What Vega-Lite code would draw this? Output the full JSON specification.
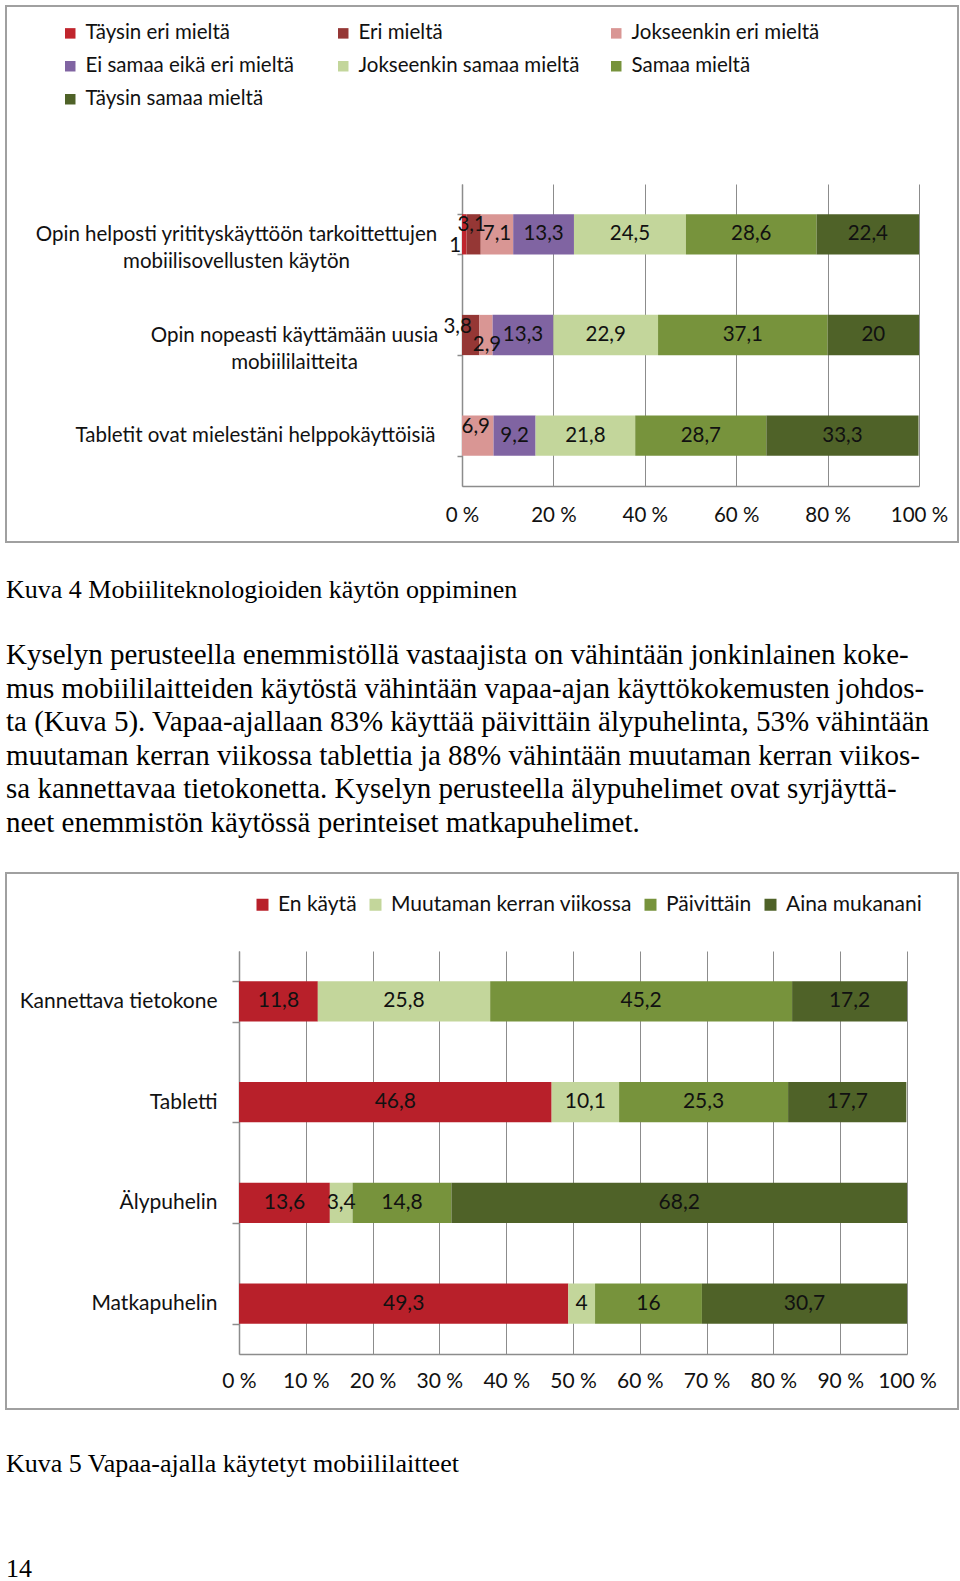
{
  "$schema": "https://vega.github.io/schema/vega-lite/v6.json",
  "background": "white",
  "padding": {"left": 5, "top": 5, "right": 0, "bottom": 0},
  "autosize": {"type": "pad"},
  "spacing": 331,
  "bounds": "flush",
  "resolve": {"legend": {"color": "independent", "fill": "independent"}},
  "datasets": {
    "c1": [
      {"q": "Opin helposti yritityskäyttöön tarkoittettujen mobiilisovellusten käytön", "r": "Täysin eri mieltä", "v": 1},
      {"q": "Opin helposti yritityskäyttöön tarkoittettujen mobiilisovellusten käytön", "r": "Eri mieltä", "v": 3.1},
      {"q": "Opin helposti yritityskäyttöön tarkoittettujen mobiilisovellusten käytön", "r": "Jokseenkin eri mieltä", "v": 7.1},
      {"q": "Opin helposti yritityskäyttöön tarkoittettujen mobiilisovellusten käytön", "r": "Ei samaa eikä eri mieltä", "v": 13.3},
      {"q": "Opin helposti yritityskäyttöön tarkoittettujen mobiilisovellusten käytön", "r": "Jokseenkin samaa mieltä", "v": 24.5},
      {"q": "Opin helposti yritityskäyttöön tarkoittettujen mobiilisovellusten käytön", "r": "Samaa mieltä", "v": 28.6},
      {"q": "Opin helposti yritityskäyttöön tarkoittettujen mobiilisovellusten käytön", "r": "Täysin samaa mieltä", "v": 22.4},
      {"q": "Opin nopeasti käyttämään uusia mobiililaitteita", "r": "Eri mieltä", "v": 3.8},
      {"q": "Opin nopeasti käyttämään uusia mobiililaitteita", "r": "Jokseenkin eri mieltä", "v": 2.9},
      {"q": "Opin nopeasti käyttämään uusia mobiililaitteita", "r": "Ei samaa eikä eri mieltä", "v": 13.3},
      {"q": "Opin nopeasti käyttämään uusia mobiililaitteita", "r": "Jokseenkin samaa mieltä", "v": 22.9},
      {"q": "Opin nopeasti käyttämään uusia mobiililaitteita", "r": "Samaa mieltä", "v": 37.1},
      {"q": "Opin nopeasti käyttämään uusia mobiililaitteita", "r": "Täysin samaa mieltä", "v": 20},
      {"q": "Tabletit ovat mielestäni helppokäyttöisiä", "r": "Jokseenkin eri mieltä", "v": 6.9},
      {"q": "Tabletit ovat mielestäni helppokäyttöisiä", "r": "Ei samaa eikä eri mieltä", "v": 9.2},
      {"q": "Tabletit ovat mielestäni helppokäyttöisiä", "r": "Jokseenkin samaa mieltä", "v": 21.8},
      {"q": "Tabletit ovat mielestäni helppokäyttöisiä", "r": "Samaa mieltä", "v": 28.7},
      {"q": "Tabletit ovat mielestäni helppokäyttöisiä", "r": "Täysin samaa mieltä", "v": 33.3}
    ],
    "c2": [
      {"d": "Kannettava tietokone", "r": "En käytä", "v": 11.8},
      {"d": "Kannettava tietokone", "r": "Muutaman kerran viikossa", "v": 25.8},
      {"d": "Kannettava tietokone", "r": "Päivittäin", "v": 45.2},
      {"d": "Kannettava tietokone", "r": "Aina mukanani", "v": 17.2},
      {"d": "Tabletti", "r": "En käytä", "v": 46.8},
      {"d": "Tabletti", "r": "Muutaman kerran viikossa", "v": 10.1},
      {"d": "Tabletti", "r": "Päivittäin", "v": 25.3},
      {"d": "Tabletti", "r": "Aina mukanani", "v": 17.7},
      {"d": "Älypuhelin", "r": "En käytä", "v": 13.6},
      {"d": "Älypuhelin", "r": "Muutaman kerran viikossa", "v": 3.4},
      {"d": "Älypuhelin", "r": "Päivittäin", "v": 14.8},
      {"d": "Älypuhelin", "r": "Aina mukanani", "v": 68.2},
      {"d": "Matkapuhelin", "r": "En käytä", "v": 49.3},
      {"d": "Matkapuhelin", "r": "Muutaman kerran viikossa", "v": 4},
      {"d": "Matkapuhelin", "r": "Päivittäin", "v": 16},
      {"d": "Matkapuhelin", "r": "Aina mukanani", "v": 30.7}
    ]
  },
  "vconcat": [
    {
      "width": 952,
      "height": 536,
      "view": {"stroke": "#a0a0a0", "strokeWidth": 2},
      "title": {
        "text": "Kuva 4 Mobiiliteknologioiden käytön oppiminen",
        "subtitle": [
          "Kyselyn perusteella enemmistöllä vastaajista on vähintään jonkinlainen koke-",
          "mus mobiililaitteiden käytöstä vähintään vapaa-ajan käyttökokemusten johdos-",
          "ta (Kuva 5). Vapaa-ajallaan 83% käyttää päivittäin älypuhelinta, 53% vähintään",
          "muutaman kerran viikossa tablettia ja 88% vähintään muutaman kerran viikos-",
          "sa kannettavaa tietokonetta. Kyselyn perusteella älypuhelimet ovat syrjäyttä-",
          "neet enemmistön käytössä perinteiset matkapuhelimet."
        ],
        "orient": "bottom",
        "anchor": "start",
        "frame": "group",
        "offset": 35,
        "font": "Liberation Serif",
        "fontSize": 26,
        "fontWeight": "normal",
        "color": "#000000",
        "subtitleFont": "Liberation Serif",
        "subtitleFontSize": 29,
        "subtitleColor": "#000000",
        "subtitleLineHeight": 33.5,
        "subtitlePadding": 38
      },
      "data": {"name": "c1"},
      "transform": [
        {"calculate": "indexof(['Täysin eri mieltä','Eri mieltä','Jokseenkin eri mieltä','Ei samaa eikä eri mieltä','Jokseenkin samaa mieltä','Samaa mieltä','Täysin samaa mieltä'], datum.r)", "as": "k"},
        {"calculate": "indexof(['Opin helposti yritityskäyttöön tarkoittettujen mobiilisovellusten käytön','Opin nopeasti käyttämään uusia mobiililaitteita','Tabletit ovat mielestäni helppokäyttöisiä'], datum.q)", "as": "qi"},
        {"window": [{"op": "sum", "field": "v", "as": "cum"}], "groupby": ["q"], "sort": [{"field": "k", "order": "ascending"}], "frame": [null, 0]},
        {"calculate": "datum.cum - datum.v", "as": "x0"},
        {"calculate": "datum.cum - datum.v / 2", "as": "mid"},
        {"calculate": "replace(toString(datum.v), '.', ',')", "as": "lbl"}
      ],
      "encoding": {
        "y": {
          "field": "q",
          "type": "nominal",
          "scale": {
            "domain": ["Opin helposti yritityskäyttöön tarkoittettujen mobiilisovellusten käytön", "Opin nopeasti käyttämään uusia mobiililaitteita", "Tabletit ovat mielestäni helppokäyttöisiä"],
            "range": [178, 480],
            "paddingInner": 0.6,
            "paddingOuter": 0.3
          },
          "axis": {
            "title": null,
            "orient": "left",
            "offset": -456,
            "domainColor": "#8c8c8c",
            "domainWidth": 1.5,
            "tickBand": "extent",
            "tickSize": 5,
            "tickColor": "#8c8c8c",
            "tickWidth": 1.5,
            "labelFont": "Lato",
            "labelFontSize": {"condition": {"test": "!isValid(datum.value)", "value": 0}, "value": 20.5},
            "labelColor": "#111111",
            "labelAlign": "center",
            "labelBaseline": "middle",
            "labelLineHeight": 27,
            "labelLimit": 0,
            "labelPadding": {
              "condition": [
                {"test": "datum.value == 'Opin nopeasti käyttämään uusia mobiililaitteita'", "value": 163},
                {"test": "datum.value == 'Tabletit ovat mielestäni helppokäyttöisiä'", "value": 202}
              ],
              "value": 221
            },
            "labelExpr": "isValid(datum.value) ? split(replace(datum.value, ' mobiili', '|mobiili'), '|') : ''"
          }
        }
      },
      "layer": [
        {
          "mark": {"type": "bar"},
          "encoding": {
            "x": {
              "field": "x0",
              "type": "quantitative",
              "scale": {"domain": [0, 100], "range": [456, 913], "nice": false, "zero": false},
              "axis": {
                "title": null,
                "orient": "bottom",
                "offset": -56,
                "values": [0, 20, 40, 60, 80, 100],
                "labelExpr": "datum.value + ' %'",
                "grid": false,
                "domainColor": "#8c8c8c",
                "domainWidth": 1.5,
                "tickSize": -302,
                "tickColor": "#8c8c8c",
                "tickWidth": 1,
                "labelFont": "Lato",
                "labelFontSize": 20.5,
                "labelColor": "#111111",
                "labelPadding": 321,
                "labelFlush": false,
                "labelOverlap": false
              }
            },
            "x2": {"field": "cum"},
            "color": {
              "field": "r",
              "type": "nominal",
              "scale": {
                "domain": ["Täysin eri mieltä", "Eri mieltä", "Jokseenkin eri mieltä", "Ei samaa eikä eri mieltä", "Jokseenkin samaa mieltä", "Samaa mieltä", "Täysin samaa mieltä"],
                "range": ["#c0252d", "#953735", "#d99694", "#8064a2", "#c3d69b", "#77933c", "#4f6228"]
              },
              "legend": {
                "title": null,
                "orient": "none",
                "direction": "horizontal",
                "legendX": 54,
                "legendY": 17,
                "columns": 3,
                "gridAlign": "all",
                "columnPadding": 26,
                "rowPadding": 12,
                "padding": 0,
                "symbolType": "square",
                "symbolSize": 110,
                "symbolStrokeWidth": 0,
                "labelFont": "Lato",
                "labelFontSize": 20.5,
                "labelColor": "#111111",
                "labelOffset": 5,
                "labelLimit": 0
              }
            }
          }
        },
        {
          "transform": [{"filter": "!(datum.qi == 0 && datum.k <= 1) && !(datum.qi == 1 && (datum.k == 1 || datum.k == 2)) && !(datum.qi == 2 && datum.k == 2)"}],
          "mark": {"type": "text", "font": "Lato", "fontSize": 20.5, "color": "#111111", "align": "center", "baseline": "middle"},
          "encoding": {"x": {"field": "mid", "type": "quantitative"}, "text": {"field": "lbl"}}
        },
        {
          "transform": [{"filter": "(datum.qi == 0 && datum.k == 1) || (datum.qi == 2 && datum.k == 2)"}],
          "mark": {"type": "text", "font": "Lato", "fontSize": 20.5, "color": "#111111", "align": "center", "baseline": "middle", "dx": -2, "dy": -9},
          "encoding": {"x": {"field": "mid", "type": "quantitative"}, "text": {"field": "lbl"}}
        },
        {
          "transform": [{"filter": "datum.qi == 1 && datum.k == 1"}],
          "mark": {"type": "text", "font": "Lato", "fontSize": 20.5, "color": "#111111", "align": "center", "baseline": "middle", "dx": -13, "dy": -8},
          "encoding": {"x": {"field": "mid", "type": "quantitative"}, "text": {"field": "lbl"}}
        },
        {
          "transform": [{"filter": "datum.qi == 0 && datum.k == 0"}],
          "mark": {"type": "text", "font": "Lato", "fontSize": 20.5, "color": "#111111", "align": "center", "baseline": "middle", "dx": -9, "dy": 12},
          "encoding": {"x": {"field": "mid", "type": "quantitative"}, "text": {"field": "lbl"}}
        },
        {
          "transform": [{"filter": "datum.qi == 1 && datum.k == 2"}],
          "mark": {"type": "text", "font": "Lato", "fontSize": 20.5, "color": "#111111", "align": "center", "baseline": "middle", "dx": 1, "dy": 10},
          "encoding": {"x": {"field": "mid", "type": "quantitative"}, "text": {"field": "lbl"}}
        }
      ]
    },
    {
      "width": 952,
      "height": 536,
      "view": {"stroke": "#a0a0a0", "strokeWidth": 2},
      "title": {
        "text": "Kuva 5 Vapaa-ajalla käytetyt mobiililaitteet",
        "subtitle": "14",
        "orient": "bottom",
        "anchor": "start",
        "frame": "group",
        "offset": 42,
        "font": "Liberation Serif",
        "fontSize": 26,
        "fontWeight": "normal",
        "color": "#000000",
        "subtitleFont": "Liberation Serif",
        "subtitleFontSize": 26,
        "subtitleColor": "#000000",
        "subtitlePadding": 79
      },
      "data": {"name": "c2"},
      "transform": [
        {"calculate": "indexof(['En käytä','Muutaman kerran viikossa','Päivittäin','Aina mukanani'], datum.r)", "as": "k"},
        {"window": [{"op": "sum", "field": "v", "as": "cum"}], "groupby": ["d"], "sort": [{"field": "k", "order": "ascending"}], "frame": [null, 0]},
        {"calculate": "datum.cum - datum.v", "as": "x0"},
        {"calculate": "datum.cum - datum.v / 2", "as": "mid"},
        {"calculate": "replace(toString(datum.v), '.', ',')", "as": "lbl"}
      ],
      "encoding": {
        "y": {
          "field": "d",
          "type": "nominal",
          "scale": {
            "domain": ["Kannettava tietokone", "Tabletti", "Älypuhelin", "Matkapuhelin"],
            "range": [78, 481],
            "paddingInner": 0.6,
            "paddingOuter": 0.3
          },
          "axis": {
            "title": null,
            "orient": "left",
            "offset": -233,
            "domainColor": "#8c8c8c",
            "domainWidth": 1.5,
            "tickBand": "extent",
            "tickSize": 7,
            "tickColor": "#8c8c8c",
            "tickWidth": 1.5,
            "labelFont": "Lato",
            "labelFontSize": {"condition": {"test": "!isValid(datum.value)", "value": 0}, "value": 21},
            "labelColor": "#111111",
            "labelAlign": "right",
            "labelBaseline": "middle",
            "labelLimit": 0,
            "labelPadding": 15
          }
        }
      },
      "layer": [
        {
          "mark": {"type": "bar"},
          "encoding": {
            "x": {
              "field": "x0",
              "type": "quantitative",
              "scale": {"domain": [0, 100], "range": [233, 901], "nice": false, "zero": false},
              "axis": {
                "title": null,
                "orient": "bottom",
                "offset": -55,
                "values": [0, 10, 20, 30, 40, 50, 60, 70, 80, 90, 100],
                "labelExpr": "datum.value + ' %'",
                "grid": false,
                "domainColor": "#8c8c8c",
                "domainWidth": 1.5,
                "tickSize": -403,
                "tickColor": "#8c8c8c",
                "tickWidth": 1,
                "labelFont": "Lato",
                "labelFontSize": 21,
                "labelColor": "#111111",
                "labelPadding": 419,
                "labelFlush": false,
                "labelOverlap": false
              }
            },
            "x2": {"field": "cum"},
            "fill": {
              "field": "r",
              "type": "nominal",
              "scale": {
                "domain": ["En käytä", "Muutaman kerran viikossa", "Päivittäin", "Aina mukanani"],
                "range": ["#b8202a", "#c3d69b", "#77933c", "#4f6228"]
              },
              "legend": {
                "title": null,
                "orient": "none",
                "legendX": 246,
                "legendY": 21,
                "direction": "horizontal",
                "columnPadding": 8,
                "padding": 0,
                "symbolType": "square",
                "symbolSize": 144,
                "symbolStrokeWidth": 0,
                "labelFont": "Lato",
                "labelFontSize": 21,
                "labelColor": "#111111",
                "labelOffset": 5,
                "labelLimit": 0
              }
            }
          }
        },
        {
          "mark": {"type": "text", "font": "Lato", "fontSize": 21, "color": "#111111", "align": "center", "baseline": "middle"},
          "encoding": {"x": {"field": "mid", "type": "quantitative"}, "text": {"field": "lbl"}}
        }
      ]
    }
  ]
}
